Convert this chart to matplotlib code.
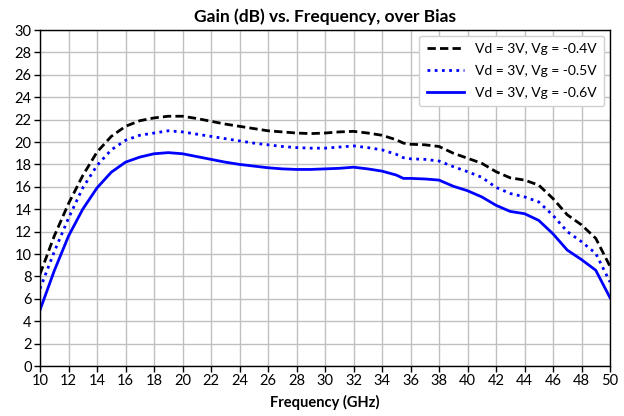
import matplotlib
matplotlib.use("Agg")
import matplotlib.pyplot as plt

plt.rcParams['font.family'] = ['Lato', 'DejaVu Sans']

freq = [10, 11, 12, 13, 14, 15, 16, 17, 18, 19, 20, 21, 22, 23, 24, 25, 26, 27, 28, 29,
        30, 31, 32, 33, 34, 35, 35.5, 36, 37, 38, 39, 40, 41, 42, 43, 44, 45, 46, 47, 48, 49, 50]

gain_vg04 = [8.2, 11.6, 14.5, 17.0, 19.1, 20.5, 21.4, 21.9, 22.15, 22.3, 22.3, 22.1, 21.85, 21.6,
             21.4, 21.2, 21.0, 20.9, 20.8, 20.75, 20.8, 20.9, 20.95, 20.8, 20.6, 20.2, 19.9, 19.8,
             19.75, 19.6, 19.0, 18.55, 18.1, 17.35, 16.8, 16.6, 16.15, 14.95, 13.5, 12.6, 11.4, 8.9]
gain_vg05 = [6.9, 10.2, 13.2, 15.9, 17.9, 19.3, 20.15, 20.6, 20.8, 21.0, 20.9, 20.7, 20.5, 20.3,
             20.1, 19.9, 19.75, 19.6, 19.5, 19.45, 19.45, 19.55, 19.65, 19.5, 19.3, 18.9, 18.6, 18.5,
             18.45, 18.3, 17.8, 17.35, 16.85, 15.95, 15.4, 15.1, 14.65, 13.45, 12.0, 11.1, 10.05, 7.5]
gain_vg06 = [5.0, 8.5, 11.6, 14.0, 15.9, 17.3, 18.2, 18.65, 18.95, 19.05, 18.95, 18.7, 18.45, 18.2,
             18.0, 17.85, 17.7, 17.6, 17.55, 17.55, 17.6, 17.65, 17.75, 17.6, 17.4, 17.05, 16.75, 16.75,
             16.7, 16.6, 16.05, 15.65, 15.1, 14.35, 13.8, 13.6, 13.0, 11.8, 10.35, 9.5, 8.55, 6.1]

labels = ["Vd = 3V, Vg = -0.4V", "Vd = 3V, Vg = -0.5V", "Vd = 3V, Vg = -0.6V"]
x_ticks = list(range(10, 51, 2))
y_ticks = list(range(0, 31, 2))

fig = plt.figure(figsize=(6.24, 4.16), dpi=100)
ax = fig.add_axes([40/624, 1-366/416, 570/624, 336/416])

ax.plot(freq, gain_vg04, color='black', lw=2, linestyle=(0, (3, 1.5)), label=labels[0])
ax.plot(freq, gain_vg05, color='blue', lw=2, linestyle=(0, (1, 1.6)), label=labels[1])
ax.plot(freq, gain_vg06, color='blue', lw=2, linestyle='-', label=labels[2])

ax.set_xlim(10, 50)
ax.set_ylim(0, 30)
ax.set_xticks(x_ticks)
ax.set_yticks(y_ticks)
ax.grid(True, color='#c0c0c0', lw=1)
ax.set_axisbelow(True)
for s in ax.spines.values():
    s.set_color('black')
    s.set_linewidth(1)
ax.tick_params(direction='out', length=4, width=1, color='black', labelsize=10.5, pad=2)

ax.set_title("Gain (dB) vs. Frequency, over Bias", fontsize=12.5, fontweight='bold', pad=6)
ax.set_xlabel("Frequency (GHz)", fontsize=10.5, fontweight='bold', labelpad=5)

leg = ax.legend(loc='upper right', fontsize=10, handlelength=2.7, framealpha=1,
                edgecolor='#d0d0d0', fancybox=True, borderaxespad=0.4, labelspacing=0.7,
                borderpad=0.55)

fig.savefig("out.png", dpi=100)
